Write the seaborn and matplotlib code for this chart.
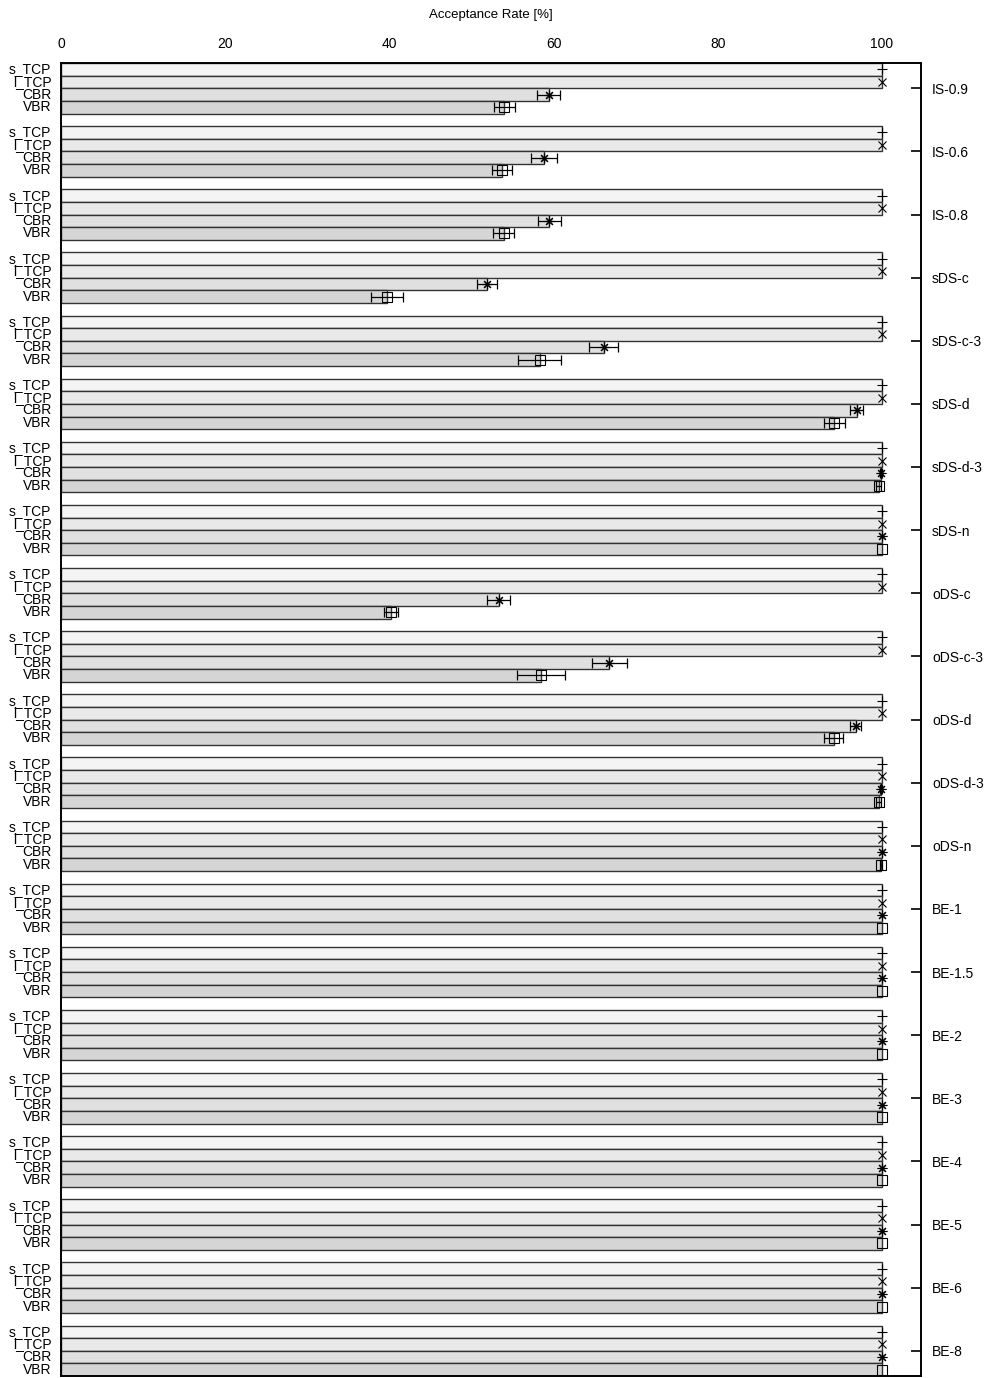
import numpy as np
import pandas as pd
import matplotlib
matplotlib.use("Agg")
import matplotlib.pyplot as plt
import seaborn as sns

sns.set_style("white")
plt.rcParams['font.family'] = ['Liberation Sans', 'DejaVu Sans']
plt.rcParams['text.color'] = 'black'
plt.rcParams['axes.labelcolor'] = 'black'
plt.rcParams['xtick.color'] = 'black'
plt.rcParams['ytick.color'] = 'black'

groups = ["IS-0.9", "IS-0.6", "IS-0.8", "sDS-c", "sDS-c-3", "sDS-d", "sDS-d-3",
          "sDS-n", "oDS-c", "oDS-c-3", "oDS-d", "oDS-d-3", "oDS-n", "BE-1",
          "BE-1.5", "BE-2", "BE-3", "BE-4", "BE-5", "BE-6", "BE-8"]
series = ["s_TCP", "l_TCP", "CBR", "VBR"]

s_tcp = [100.0] * 21
s_tcp_err = [0.0] * 21
l_tcp = [100.0] * 21
l_tcp_err = [0.0] * 21
cbr = [59.4, 58.8, 59.5, 51.9, 66.1, 96.9, 99.9, 100.0, 53.3, 66.8, 96.8, 99.9,
       100.0, 100.0, 100.0, 100.0, 100.0, 100.0, 100.0, 100.0, 100.0]
cbr_err = [1.4, 1.6, 1.4, 1.2, 1.8, 0.8, 0.1, 0.0, 1.4, 2.1, 0.7, 0.1,
           0.0, 0.0, 0.0, 0.0, 0.0, 0.0, 0.0, 0.0, 0.0]
vbr = [54.0, 53.7, 53.9, 39.7, 58.3, 94.2, 99.6, 100.0, 40.2, 58.5, 94.1, 99.6,
       99.9, 100.0, 100.0, 100.0, 100.0, 100.0, 100.0, 100.0, 100.0]
vbr_err = [1.3, 1.2, 1.3, 2.0, 2.6, 1.3, 0.3, 0.0, 0.85, 2.9, 1.2, 0.3,
           0.1, 0.0, 0.0, 0.0, 0.0, 0.0, 0.0, 0.0, 0.0]

values = [s_tcp, l_tcp, cbr, vbr]
errors = [s_tcp_err, l_tcp_err, cbr_err, vbr_err]
colors = {"s_TCP": "#f4f4f4", "l_TCP": "#e9e9e9", "CBR": "#e0e0e0", "VBR": "#d5d5d5"}
markers = {"s_TCP": "+", "l_TCP": "x", "CBR": (8, 2, 0), "VBR": "s"}
msizes = {"s_TCP": 7, "l_TCP": 6, "CBR": 7, "VBR": 7}

rows = []
for g, name in enumerate(groups):
    for s, ser in enumerate(series):
        rows.append({"group": name, "series": ser, "pos": g * 5 + s,
                     "value": values[s][g], "err": errors[s][g]})
df = pd.DataFrame(rows)

fig = plt.figure(figsize=(9.94, 13.78), dpi=100)
ax = fig.add_axes([61 / 994, 2 / 1378, (921 - 61) / 994, (1376 - 63) / 1378])

sns.barplot(data=df, x="value", y="pos", hue="series", palette=colors,
            hue_order=series, orient="y", native_scale=True, dodge=False,
            width=1.0, edgecolor="#333333", linewidth=1.0, legend=False,
            errorbar=None, ax=ax)

for ser in series:
    sub = df[df["series"] == ser]
    has_err = sub["err"] > 0
    ax.errorbar(sub["value"][has_err], sub["pos"][has_err], xerr=sub["err"][has_err],
                fmt="none", ecolor="black", elinewidth=0.9, capsize=3.5, capthick=0.9,
                zorder=4)
    if ser == "VBR":
        ax.plot(sub["value"], sub["pos"], linestyle="none", marker="s",
                markersize=msizes[ser], markerfacecolor="none", markeredgecolor="black",
                markeredgewidth=0.8, zorder=5)
    else:
        ax.plot(sub["value"], sub["pos"], linestyle="none", marker=markers[ser],
                markersize=msizes[ser], color="black",
                markeredgewidth=0.8, zorder=5)

n = len(groups)
ax.set_xlim(0, 104.75)
ax.set_ylim(n * 5 - 1 - 0.5, -0.5)

ax.xaxis.tick_top()
ax.xaxis.set_label_position("top")
ax.set_xticks([0, 20, 40, 60, 80, 100])
ax.set_xticklabels(["0", "20", "40", "60", "80", "100"], fontsize=10)
ax.tick_params(axis="x", direction="in", length=0, pad=9)
ax.set_xlabel("Acceptance Rate [%]", fontsize=9.5, labelpad=13.5)

ax.set_yticks(df["pos"])
ax.set_yticklabels(df["series"], fontsize=10)
ax.tick_params(axis="y", length=0, pad=7)
for lbl in ax.get_yticklabels():
    lbl.set_verticalalignment("center")
ax.set_ylabel("")

ax2 = ax.twinx()
ax2.set_ylim(ax.get_ylim())
ax2.set_yticks([g * 5 + 1.5 for g in range(n)])
ax2.set_yticklabels(groups, fontsize=10)
ax2.tick_params(axis="y", direction="in", length=7, width=1.2, pad=8, colors="black")

for a in (ax, ax2):
    for sp in a.spines.values():
        sp.set_color("black")
        sp.set_linewidth(1.2)

fig.savefig("out.png", dpi=100)
